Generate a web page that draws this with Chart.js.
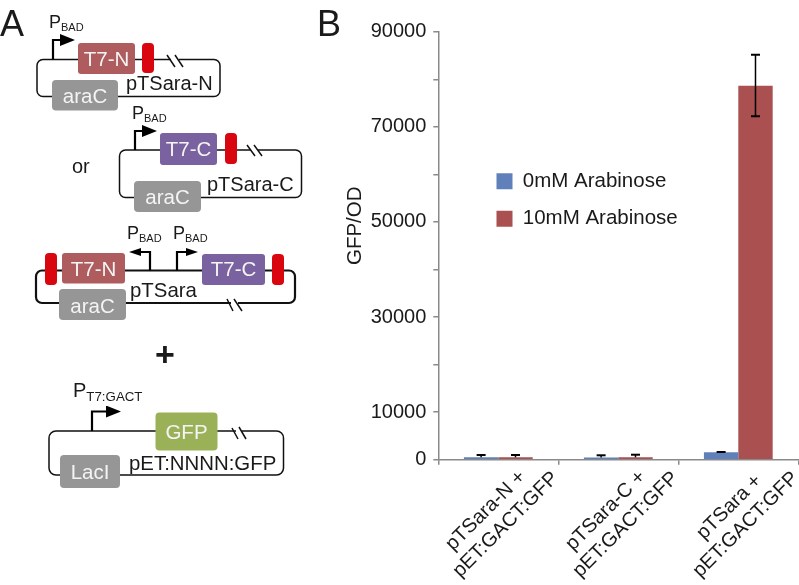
<!DOCTYPE html>
<html>
<head>
<meta charset="utf-8">
<title>pTSara GFP/OD</title>
<script src="https://cdn.jsdelivr.net/npm/chart.js@4/dist/chart.umd.min.js"></script>
<style>
	html, body { margin: 0; padding: 0; background: #fff; }
	#wrap { position: relative; width: 799px; height: 585px; overflow: hidden; }
	#chart { position: absolute; left: 0; top: 0; }
	#schematic { position: absolute; left: 0; top: 0; pointer-events: none; }
	#schematic text { font-family: "Liberation Sans", Arial, sans-serif; fill: #1a1a1a; }
	#schematic text.box { fill: #f4f4f4; text-anchor: middle; font-size: 20.5px; }
	#schematic .wire { fill: none; stroke: #111; stroke-width: 1.5; }
	#schematic .thick { stroke-width: 2.2; }
	#schematic .arrow { fill: none; stroke: #000; stroke-width: 2.2; }
	#schematic .cut { stroke: #fff; stroke-width: 5; }
	#schematic .dash { stroke: #111; stroke-width: 1.5; }
</style>
</head>
<body>
<div id="wrap">
	<canvas id="chart" width="799" height="585"></canvas>

	<svg id="schematic" width="799" height="585" viewBox="0 0 799 585">
		<defs>
			<marker id="head" markerUnits="userSpaceOnUse" markerWidth="16" markerHeight="12" refX="1" refY="6" orient="auto">
				<path d="M0 0 L15 6 L0 12 Z" fill="#000"></path>
			</marker>
			<marker id="headsm" markerUnits="userSpaceOnUse" markerWidth="14" markerHeight="10" refX="1" refY="4" orient="auto">
				<path d="M0 0 L12 4 L0 8 Z" fill="#000"></path>
			</marker>
		</defs>

		<text x="0" y="36" font-size="36">A</text>
		<text x="317" y="36" font-size="36">B</text>

		<!-- pTSara-N -->
		<text x="49" y="28" font-size="18">P<tspan dy="3" font-size="11">BAD</tspan></text>
		<rect class="wire" x="37" y="59.5" width="183" height="37" rx="6"></rect>
		<path class="arrow" d="M53 59.5 V40 H61" marker-end="url(#head)"></path>
		<rect x="78" y="43" width="57" height="31" rx="3" fill="#ae5c5e"></rect>
		<text class="box" x="106.5" y="65.5">T7-N</text>
		<rect x="142" y="43" width="12" height="30" rx="4" fill="#d9050f"></rect>
		<path class="cut" d="M171 59.5 H179"></path>
		<path class="dash" d="M167 55 L175 67 M175 55 L183 67"></path>
		<rect x="52" y="80" width="66" height="30.5" rx="4" fill="#969696"></rect>
		<text class="box" x="85" y="103">araC</text>
		<text x="126" y="90" font-size="20">pTSara-N</text>

		<text x="72" y="173" font-size="20">or</text>

		<!-- pTSara-C -->
		<text x="132" y="119" font-size="18">P<tspan dy="3" font-size="11">BAD</tspan></text>
		<rect class="wire" x="119.5" y="150" width="182" height="47.5" rx="6"></rect>
		<path class="arrow" d="M135 150 V131 H143" marker-end="url(#head)"></path>
		<rect x="160" y="133" width="57" height="32" rx="3" fill="#7a619f"></rect>
		<text class="box" x="188.5" y="156">T7-C</text>
		<rect x="225" y="133" width="12" height="31" rx="4" fill="#d9050f"></rect>
		<path class="cut" d="M251 150 H258"></path>
		<path class="dash" d="M247 145 L255 156 M254 145 L262 156"></path>
		<rect x="134" y="181" width="67" height="31" rx="4" fill="#969696"></rect>
		<text class="box" x="167.5" y="204">araC</text>
		<text x="207" y="191" font-size="20">pTSara-C</text>

		<!-- pTSara -->
		<text x="127" y="239" font-size="18">P<tspan dy="3" font-size="11">BAD</tspan></text>
		<text x="173" y="239" font-size="18">P<tspan dy="3" font-size="11">BAD</tspan></text>
		<rect class="wire thick" x="36" y="270.5" width="259" height="32.5" rx="6"></rect>
		<path class="arrow" d="M150 270.5 V252 H140" marker-end="url(#headsm)"></path>
		<path class="arrow" d="M177 270.5 V252 H187" marker-end="url(#headsm)"></path>
		<rect x="45" y="253" width="12" height="32" rx="4" fill="#d9050f"></rect>
		<rect x="62" y="253" width="63" height="30.5" rx="3" fill="#ae5c5e"></rect>
		<text class="box" x="93.5" y="276">T7-N</text>
		<rect x="202" y="254" width="63" height="31" rx="3" fill="#7a619f"></rect>
		<text class="box" x="233.5" y="276">T7-C</text>
		<rect x="272" y="254" width="12" height="31" rx="4" fill="#d9050f"></rect>
		<path class="cut" d="M231 303 H238"></path>
		<path class="dash" d="M227 299 L233 311 M234 299 L242 311"></path>
		<rect x="59" y="289" width="67" height="31" rx="4" fill="#969696"></rect>
		<text class="box" x="92.5" y="312.5">araC</text>
		<text x="130" y="297" font-size="20.4">pTSara</text>

		<text x="165" y="366" font-size="34" font-weight="bold" text-anchor="middle">+</text>

		<!-- pET:NNNN:GFP -->
		<text x="73" y="397" font-size="20">P<tspan dy="4" font-size="13.3">T7:GACT</tspan></text>
		<rect class="wire" x="49" y="431" width="234.5" height="44" rx="7"></rect>
		<path class="arrow" d="M92 431 V411.5 H107" marker-end="url(#head)"></path>
		<rect x="155.5" y="412.5" width="62" height="38" rx="4" fill="#9bb158"></rect>
		<text class="box" x="186.5" y="438.5">GFP</text>
		<path class="cut" d="M236 431 H242"></path>
		<path class="dash" d="M232 428 L238 439 M239 427 L246 439"></path>
		<rect x="60" y="455" width="60" height="33" rx="4" fill="#969696"></rect>
		<text class="box" x="90" y="479">LacI</text>
		<text x="129" y="470" font-size="20.4">pET:NNNN:GFP</text>
	</svg>
</div>

<script>
( function () {
	"use strict";

	var categories = [
		["pTSara-N +    ", "pET:GACT:GFP"],
		["pTSara-C +    ", "pET:GACT:GFP"],
		["pTSara +     ", "pET:GACT:GFP"]
	];
	var labelledTicks = [0, 10000, 30000, 50000, 70000, 90000];

	var noArabinose = [500, 450, 1550];
	var tenArabinose = [500, 500, 78650];

	// only the tall bar shows a lower cap, the others are hidden in the bar
	var noArabinoseHigh = [990, 925, 1620];
	var noArabinoseLow = [null, null, null];
	var tenArabinoseHigh = [990, 1050, 85170];
	var tenArabinoseLow = [null, null, 72220];

	var textColor = '#1a1a1a';
	var axisColor = '#8a8a8a';

	var errorBars = {
		id: 'errorBars',
		afterDatasetsDraw: function (chart) {
			var ctx = chart.ctx;
			var yScale = chart.scales.y;
			var highs = [noArabinoseHigh, tenArabinoseHigh];
			var lows = [noArabinoseLow, tenArabinoseLow];

			ctx.save();
			ctx.strokeStyle = '#000';
			chart.data.datasets.forEach(function (ds, d) {
				chart.getDatasetMeta(d).data.forEach(function (bar, i) {
					var x = bar.x;
					var high = yScale.getPixelForValue(highs[d][i]);
					var low = lows[d][i] === null ? bar.y : yScale.getPixelForValue(lows[d][i]);

					ctx.lineWidth = 1.5;
					ctx.beginPath();
					ctx.moveTo(x, high);
					ctx.lineTo(x, low);
					ctx.stroke();

					ctx.lineWidth = 2;
					ctx.beginPath();
					ctx.moveTo(x - 4.5, high);
					ctx.lineTo(x + 4.5, high);
					if (lows[d][i] !== null) {
						ctx.moveTo(x - 4.5, low);
						ctx.lineTo(x + 4.5, low);
					}
					ctx.stroke();
				});
			});
			ctx.restore();
		}
	};

	// legend sits inside the plot, move it there once the layout is done
	var placeLegend = {
		id: 'placeLegend',
		afterLayout: function (chart) {
			var legend = chart.legend;
			var pad = legend.options.labels.padding;
			legend.left = 496.5 - pad;
			legend.top = 171 - pad;
			legend.right = legend.left + legend.width;
			legend.bottom = legend.top + 120;
			legend.adjustHitBoxes();
		}
	};

	new Chart(document.getElementById('chart').getContext('2d'), {
		type: 'bar',
		data: {
			labels: categories,
			datasets: [{
				label: '0mM Arabinose',
				data: noArabinose,
				backgroundColor: '#5f80bb'
			}, {
				label: '10mM Arabinose',
				data: tenArabinose,
				backgroundColor: '#aa5050'
			}]
		},
		options: {
			responsive: false,
			animation: false,
			layout: {
				padding: { left: 340, top: 31.7, right: 0.7, bottom: 0 }
			},
			datasets: {
				bar: {
					categoryPercentage: 0.573,
					barPercentage: 1
				}
			},
			plugins: {
				tooltip: { enabled: false },
				legend: {
					position: 'chartArea',
					align: 'start',
					labels: {
						boxWidth: 16,
						boxHeight: 16,
						padding: 17,
						color: textColor,
						font: { family: '"Liberation Sans", Arial, sans-serif', size: 20.5 }
					}
				}
			},
			scales: {
				x: {
					afterFit: function (scale) { scale.height = 125.3; },
					border: { color: axisColor, width: 1.5 },
					grid: { color: axisColor, lineWidth: 1.5, drawOnChartArea: false, tickLength: 5 },
					ticks: {
						autoSkip: false,
						minRotation: 45,
						maxRotation: 45,
						labelOffset: 40,
						padding: -15,
						color: textColor,
						font: { family: '"Liberation Sans", Arial, sans-serif', size: 20 }
					}
				},
				y: {
					min: 0,
					max: 90000,
					afterFit: function (scale) { scale.width = 98.3; },
					border: { color: axisColor, width: 1.5 },
					grid: { color: axisColor, lineWidth: 1.5, drawOnChartArea: false, tickLength: 5 },
					title: {
						display: true,
						text: '       GFP/OD',
						color: textColor,
						padding: { top: 3, bottom: 0 },
						font: { family: '"Liberation Sans", Arial, sans-serif', size: 20.5 }
					},
					ticks: {
						stepSize: 10000,
						autoSkip: false,
						padding: 7,
						color: textColor,
						font: { family: '"Liberation Sans", Arial, sans-serif', size: 20 },
						callback: function (value) {
							return labelledTicks.indexOf(value) >= 0 ? String(value) : '';
						}
					}
				}
			}
		},
		plugins: [errorBars, placeLegend]
	});
} () );
</script>
</body>
</html>
